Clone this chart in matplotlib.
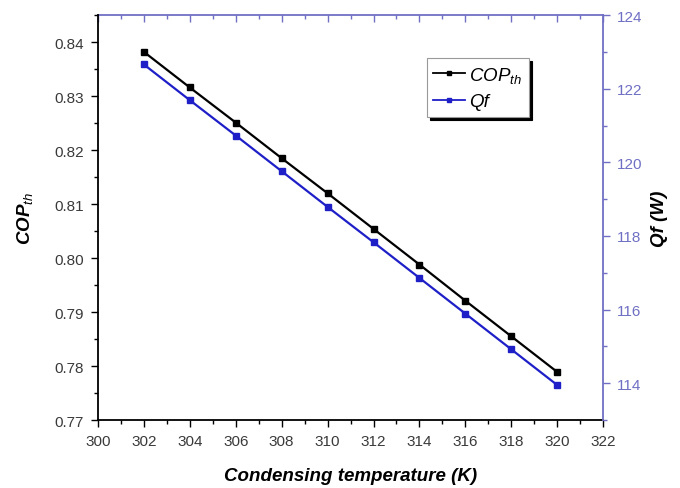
import numpy as np
import matplotlib.pyplot as plt
from matplotlib.ticker import MultipleLocator

plt.rcParams['font.family'] = ['Liberation Sans', 'DejaVu Sans']
plt.rcParams['mathtext.fontset'] = 'custom'
plt.rcParams['mathtext.rm'] = 'Liberation Sans'
plt.rcParams['mathtext.it'] = 'Liberation Sans:italic'
plt.rcParams['mathtext.bf'] = 'Liberation Sans:bold:italic'
plt.rcParams['mathtext.default'] = 'it'

# data
temps = [302, 304, 306, 308, 310, 312, 314, 316, 318, 320]
cop_th = [0.8382, 0.8316, 0.8251, 0.8185, 0.8120, 0.8054, 0.7988, 0.7921, 0.7855, 0.7789]
qf = [122.66, 121.69, 120.73, 119.76, 118.79, 117.83, 116.86, 115.89, 114.92, 113.95]

axis_blue = '#6f6fc4'
line_blue = '#1f1fc8'
label_gray = '#3a3a3a'

fig = plt.figure(figsize=(6.8, 4.89), dpi=100)
ax = fig.add_axes([0.144, 0.139, 0.743, 0.828])
ax2 = ax.twinx()

l1, = ax.plot(temps, cop_th, color='black', marker='s', markersize=4.5,
              linewidth=1.6, label='COP$_{th}$')
l2, = ax2.plot(temps, qf, color=line_blue, marker='s', markersize=4.5,
               linewidth=1.6, label='Qf')

ax.set_xlim(300, 322)
ax.set_ylim(0.77, 0.845)
ax2.set_ylim(113, 124)

ax.xaxis.set_major_locator(MultipleLocator(2))
ax.xaxis.set_minor_locator(MultipleLocator(1))
ax.yaxis.set_major_locator(MultipleLocator(0.01))
ax.yaxis.set_minor_locator(MultipleLocator(0.005))
ax2.yaxis.set_major_locator(MultipleLocator(2))
ax2.yaxis.set_minor_locator(MultipleLocator(1))
ax.yaxis.set_major_formatter(plt.FormatStrFormatter('%.2f'))

ax.tick_params(axis='both', which='major', labelsize=11, length=5,
               width=1, direction='out', labelcolor=label_gray, pad=5)
ax.tick_params(axis='both', which='minor', length=3, width=1, direction='out')
ax2.tick_params(axis='y', which='major', labelsize=11, length=5, width=1,
                colors=axis_blue, direction='out', pad=5)
ax2.tick_params(axis='y', which='minor', length=3, width=1,
                colors=axis_blue, direction='out')

# top axis: ticks pointing inward, no labels
top = ax.secondary_xaxis('top')
top.xaxis.set_major_locator(MultipleLocator(2))
top.xaxis.set_minor_locator(MultipleLocator(1))
top.tick_params(which='major', direction='in', length=5, width=1,
                colors=axis_blue, labeltop=False)
top.tick_params(which='minor', direction='in', length=3, width=1,
                colors=axis_blue)
top.spines['top'].set_color(axis_blue)
top.spines['top'].set_linewidth(1.3)

for side in ['left', 'bottom']:
    ax.spines[side].set_linewidth(1.3)
    ax2.spines[side].set_visible(False)
ax2.spines['right'].set_color(axis_blue)
ax2.spines['right'].set_linewidth(1.3)
ax2.spines['top'].set_visible(False)
ax.spines['top'].set_visible(False)
ax.spines['right'].set_visible(False)

ax.set_xlabel('Condensing temperature (K)', fontsize=13.5, fontweight='bold',
              style='italic', labelpad=14)
ax.set_ylabel('COP$_{th}$', fontsize=13.5, fontweight='bold', style='italic',
              labelpad=14)
ax2.set_ylabel('Qf (W)', fontsize=13.5, fontweight='bold', style='italic',
               labelpad=6)

leg = ax2.legend([l1, l2], ['COP$_{th}$', 'Qf'], loc='upper left',
                 bbox_to_anchor=(0.651, 0.894), fancybox=False,
                 shadow={'color': 'black', 'alpha': 1.0},
                 prop={'style': 'italic', 'size': 13.5}, handlelength=1.7,
                 handletextpad=0.2, borderpad=0.35, labelspacing=0.45,
                 borderaxespad=0, framealpha=1)
leg.get_frame().set_edgecolor('#999999')
leg.get_frame().set_linewidth(0.8)
for h in leg.get_lines():
    h.set_markersize(3.5)
    h.set_linewidth(1.3)

fig.savefig('out.png', dpi=100)
